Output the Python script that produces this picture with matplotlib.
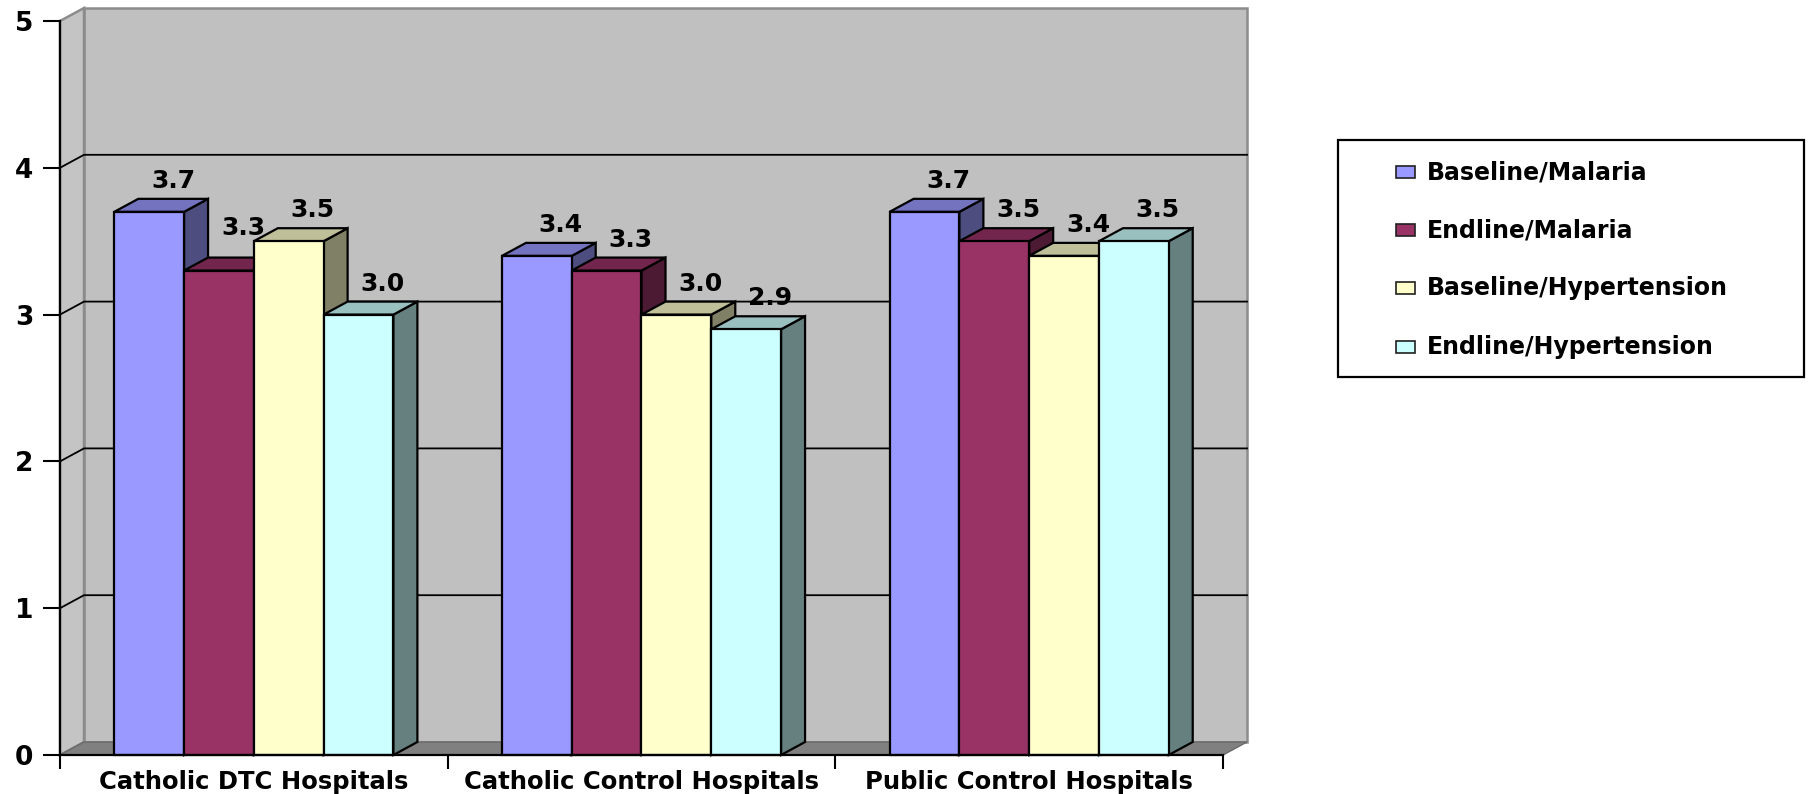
import numpy as np
import matplotlib.pyplot as plt
from matplotlib.patches import Polygon, Rectangle
from matplotlib.colors import to_rgb

plt.rcParams["font.family"] = ["DejaVu Sans"]
plt.rcParams["font.weight"] = "bold"

categories = ["Catholic DTC Hospitals", "Catholic Control Hospitals", "Public Control Hospitals"]
series = ["Baseline/Malaria", "Endline/Malaria", "Baseline/Hypertension", "Endline/Hypertension"]
baseline_malaria = [3.7, 3.4, 3.7]
endline_malaria = [3.3, 3.3, 3.5]
baseline_hypertension = [3.5, 3.0, 3.4]
endline_hypertension = [3.0, 2.9, 3.5]
yticks = [0, 1, 2, 3, 4, 5]

values = [baseline_malaria, endline_malaria, baseline_hypertension, endline_hypertension]
colors = ["#9999FF", "#993366", "#FFFFCC", "#CCFFFF"]


def shade(c, f):
    return tuple(np.array(to_rgb(c)) * f)


W, H = 1809, 794
fig = plt.figure(figsize=(W / 100, H / 100), dpi=100)
# plot area in pixels: x 60..1223, y 755 (value 0) .. 21 (value 5)
ax = fig.add_axes([60 / W, (H - 755) / H, 1163 / W, 734 / H])
ax.set_xlim(0, 3)
ax.set_ylim(0, 5)
ax.patch.set_visible(False)

# depth of the fake 3d box, in data units
DX = 24 / 387.7
DY = 13 / 146.8
n = len(categories)

# walls and floor
ax.add_patch(Polygon([(DX, DY), (n + DX, DY), (n + DX, 5 + DY), (DX, 5 + DY)],
                     closed=True, fc="#C0C0C0", ec="#8C8C8C", lw=1.8, zorder=0.5, clip_on=False))
ax.add_patch(Polygon([(0, 0), (DX, DY), (DX, 5 + DY), (0, 5)],
                     closed=True, fc="#C4C4C4", ec="#8C8C8C", lw=1.8, zorder=0.6, clip_on=False))
ax.add_patch(Polygon([(0, 0), (n, 0), (n + DX, DY), (DX, DY)],
                     closed=True, fc="#808080", ec="#6A6A6A", lw=1.0, zorder=0.7, clip_on=False))
for v in yticks[1:-1]:
    ax.plot([0, DX, n + DX], [v, v + DY, v + DY], color="black", lw=1.3,
            zorder=0.8, clip_on=False)

# bars: side, top, then front face, left to right
w = 0.18
x0 = np.arange(n) + 0.5 - 2 * w
for j, (vals, c) in enumerate(zip(values, colors)):
    xs = x0 + j * w
    z = 2 + j
    for i, (x, v) in enumerate(zip(xs, vals)):
        side = [(x + w, 0), (x + w + DX, DY), (x + w + DX, v + DY), (x + w, v)]
        top = [(x, v), (x + w, v), (x + w + DX, v + DY), (x + DX, v + DY)]
        ax.add_patch(Polygon(side, closed=True, fc=shade(c, 0.5), ec="black",
                             lw=1.6, zorder=z, clip_on=False))
        ax.add_patch(Polygon(top, closed=True, fc=shade(c, 0.75), ec="black",
                             lw=1.6, zorder=z + 0.1, clip_on=False))
        # lift the label clear of a taller neighbour on the right
        ly = v + DY + 0.075
        if j + 1 < len(values) and values[j + 1][i] > v:
            ly = max(ly, values[j + 1][i] + 0.5 * DY)
        ax.text(x + w / 2 + DX, ly, f"{v:.1f}", ha="center",
                va="baseline", fontsize=18, fontweight="bold", zorder=10)
    ax.bar(xs, vals, width=w, align="edge", color=c, edgecolor="black",
           linewidth=1.6, zorder=z + 0.2, clip_on=False)

# axes
for s in ["top", "right"]:
    ax.spines[s].set_visible(False)
for s in ["left", "bottom"]:
    ax.spines[s].set_linewidth(1.6)
    ax.spines[s].set_zorder(9)
ax.set_yticks(yticks)
ax.tick_params(axis="y", length=12, width=1.5, pad=7, labelsize=19)
ax.set_xticks(range(n + 1))
ax.set_xticklabels([])
ax.set_xticks(np.arange(n) + 0.5, minor=True)
ax.set_xticklabels(categories, minor=True, fontsize=17.5, fontweight="bold")
ax.tick_params(axis="x", which="major", length=10, width=1.5)
ax.tick_params(axis="x", which="minor", length=0, pad=11)

# legend box
fig.add_artist(Rectangle((1338 / W, 1 - 377 / H), 466 / W, 237 / H,
                         transform=fig.transFigure, fc="white", ec="black", lw=1.6))
for name, c, yp in zip(series, colors, [172, 230, 288, 347]):
    fig.add_artist(Rectangle((1396 / W, 1 - (yp + 6) / H), 19 / W, 12 / H,
                             transform=fig.transFigure, fc=c, ec="#202020", lw=1.2))
    fig.text(1427 / W, 1 - yp / H, name, ha="left", va="center", fontsize=17,
             fontweight="bold")

fig.savefig("out.png", dpi=100)
